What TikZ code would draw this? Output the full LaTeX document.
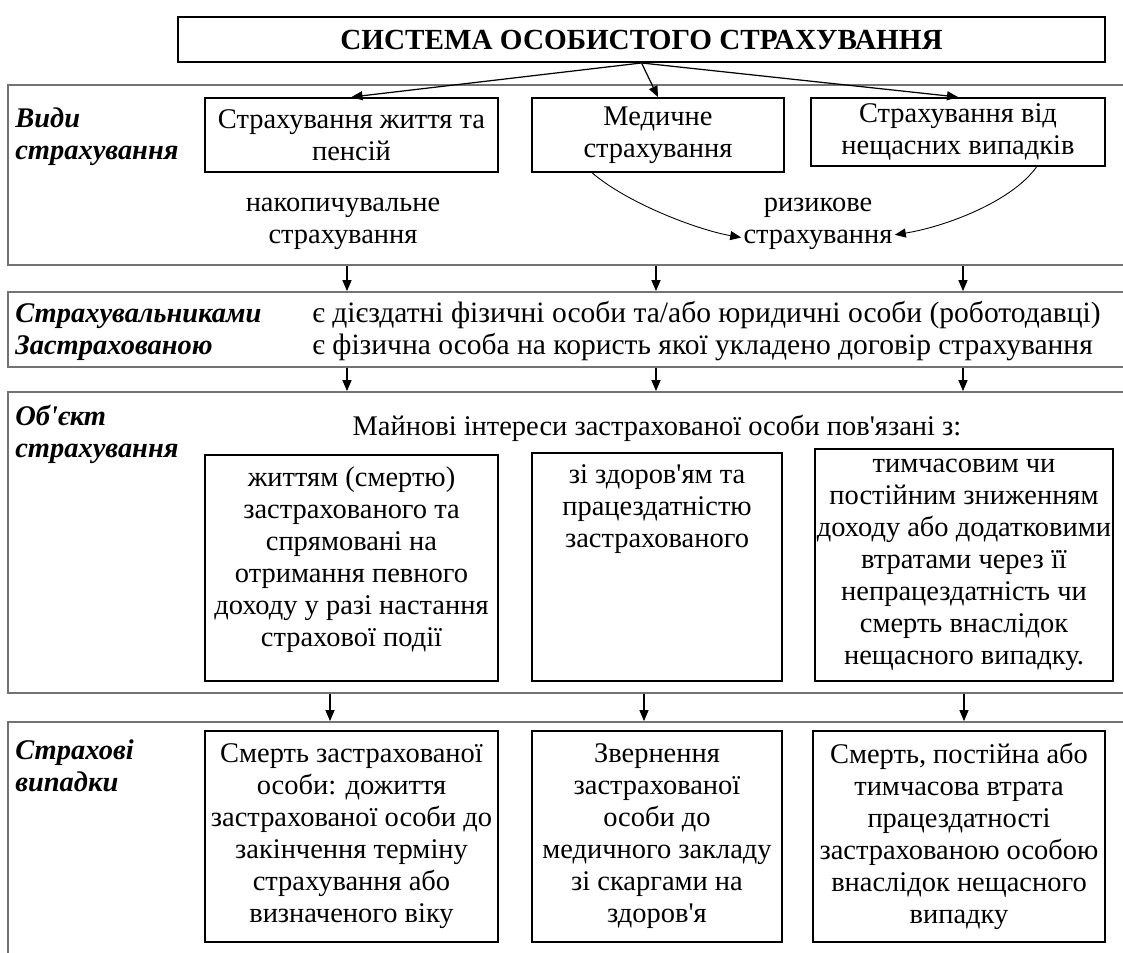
\documentclass[tikz,border=0pt]{standalone}
\usepackage{fontspec}
\setmainfont{Liberation Serif}
\usetikzlibrary{arrows.meta,fit}

\newcommand{\bodyfont}{\fontsize{16.2pt}{18.2pt}\selectfont}
\newcommand{\apos}{\textquotesingle}

\tikzset{
  band/.style={draw=black!55, line width=1pt, inner sep=0pt},
  box/.style={draw=black, line width=1.1pt, align=center, inner sep=0pt},
  lbl/.style={anchor=north west, align=left, inner sep=0.06cm, font=\bodyfont\bfseries\itshape},
  txt/.style={align=center, inner sep=0.04cm},
  arr/.style={-{Triangle[length=0.22cm,width=0.18cm]}, line width=0.7pt},
  bendarr/.style={-{Triangle[length=0.22cm,width=0.18cm]}, line width=0.5pt},
}

\begin{document}
\begin{tikzpicture}[x=0.02cm, y=-0.02cm, font=\bodyfont]
    \useasboundingbox (0,0) rectangle (1123,953);

    % bands
    \node[band, fit={(8,85) (1130,265)}] (band1) {};
    \node[band, fit={(8,292) (1130,367)}] (band2) {};
    \node[band, fit={(8,392) (1130,693)}] (band3) {};
    \node[band, fit={(8,722) (1130,970)}] (band4) {};

    \node[box, minimum width=18.54cm, minimum height=0.9cm, font=\fontsize{16.6pt}{18.2pt}\selectfont\bfseries] (title) at (641.5,39.5) {СИСТЕМА ОСОБИСТОГО СТРАХУВАННЯ};

    % види страхування
    \node[lbl] (vydy) at (12,104) {Види\\страхування};
    \node[box, minimum width=5.86cm, minimum height=1.48cm] (box1) at (351.5,135) {Страхування життя та\\пенсій};
    \node[box, minimum width=5.04cm, minimum height=1.48cm] (box2) at (658,135) {Медичне\\страхування};
    \node[box, minimum width=5.88cm, minimum height=1.36cm] (box3) at (958,132) {Страхування від\\нещасних випадків};
    \node[txt] (nakop) at (343,224) {накопичувальне\\страхування};
    \node[txt] (rizyk) at (818,224) {ризикове\\страхування};

    \foreach \b in {box1,box2,box3}
        \draw[arr] (title.south) -- (\b.north);
    \draw[bendarr] (box2.210) .. controls +(35,30) and +(-45,-8) .. (rizyk.190);
    \draw[bendarr] (box3.-24) .. controls +(-25,35) and +(50,-8) .. (rizyk.-8);

    % страхувальники
    \node[lbl] (strakh) at (12,300) {Страхувальниками\\Застрахованою};
    \node[anchor=north west, align=left, inner sep=0.04cm, font=\fontsize{16.8pt}{18.2pt}\selectfont] (khto) at (310,299) {є дієздатні фізичні особи та/або юридичні особи (роботодавці)\\є фізична особа на користь якої укладено договір страхування};

    % об'єкт
    \node[lbl] (obiekt) at (12,402) {Об\apos єкт\\страхування};
    \node[txt] (mainovi) at (657,428) {Майнові інтереси застрахованої особи пов\apos язані з:};
    \node[box, anchor=north] (obj1) at (351.5,454) {\parbox[c][4.52cm][t]{5.86cm}{\centering\vspace*{0.24cm}життям (смертю)\\застрахованого та\\спрямовані на\\отримання певного\\доходу у разі настання\\страхової події}};
    \node[box, anchor=north] (obj2) at (657,452) {\parbox[c][4.56cm][t]{5.0cm}{\centering\vspace*{0.24cm}зі здоров\apos ям та\\працездатністю\\застрахованого}};
    \node[box, minimum width=5.96cm, minimum height=4.64cm] (obj3) at (964,565) {тимчасовим чи\\постійним зниженням\\доходу або додатковими\\втратами через її\\непрацездатність чи\\смерть внаслідок\\нещасного випадку.};

    % страхові випадки
    \node[lbl] (vypadky) at (12,736) {Страхові\\випадки};
    \node[box, minimum width=5.86cm, minimum height=4.22cm] (vyp1) at (351.5,836.5) {Смерть застрахованої\\особи: дожиття\\застрахованої особи до\\закінчення терміну\\страхування або\\визначеного віку};
    \node[box, minimum width=5.0cm, minimum height=4.22cm] (vyp2) at (657,836.5) {Звернення\\застрахованої\\особи до\\медичного закладу\\зі скаргами на\\здоров\apos я};
    \node[box, minimum width=5.84cm, minimum height=4.22cm] (vyp3) at (959,836.5) {Смерть, постійна або\\тимчасова втрата\\працездатності\\застрахованою особою\\внаслідок нещасного\\випадку};

    % arrows between bands
    \coordinate (c1) at (347,0);
    \coordinate (c2) at (656,0);
    \coordinate (c3) at (963,0);
    \coordinate (d1) at (330,0);
    \coordinate (d2) at (644,0);
    \coordinate (d3) at (964,0);
    \foreach \c in {c1,c2,c3} {
        \draw[arr] (\c |- band1.south) -- (\c |- band2.north);
        \draw[arr] (\c |- band2.south) -- (\c |- band3.north);
    }
    \foreach \c in {d1,d2,d3}
        \draw[arr] (\c |- band3.south) -- (\c |- band4.north);
\end{tikzpicture}
\end{document}
